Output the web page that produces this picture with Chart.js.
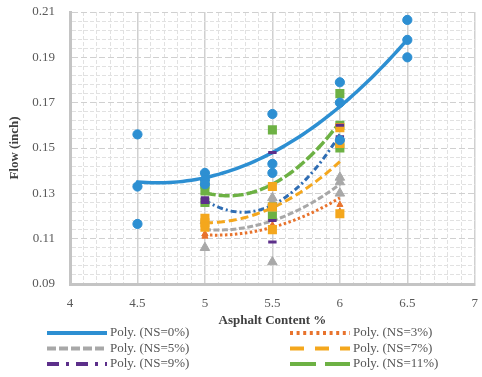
<!DOCTYPE html>
<html>
<head>
<meta charset="utf-8">
<script src="https://cdn.jsdelivr.net/npm/chart.js@4"></script>
<style>
  html, body { margin: 0; padding: 0; background: #fff; }
</style>
</head>
<body>
<canvas id="flowChart" width="482" height="377"></canvas>
<script>
// asphalt content (%) of the specimens
const contentNS0 = [4.5, 4.5, 4.5, 5, 5, 5, 5.5, 5.5, 5.5, 6, 6, 6, 6.5, 6.5, 6.5];
const contentNS = [5, 5, 5, 5.5, 5.5, 5.5, 6, 6, 6];

// measured flow (inch) per nano-silica dosage
const flowNS0 = [0.156, 0.133, 0.1165, 0.139, 0.136, 0.134, 0.165, 0.143, 0.139, 0.179, 0.170, 0.1535, 0.2065, 0.1977, 0.190];
const flowNS3 = [0.112, 0.111, 0.112, 0.115, 0.116, 0.114, 0.137, 0.125, 0.122];
const flowNS5 = [0.106, 0.118, 0.118, 0.0997, 0.128, 0.126, 0.137, 0.135, 0.130];
const flowNS7 = [0.119, 0.117, 0.115, 0.133, 0.124, 0.114, 0.121, 0.152, 0.159];
const flowNS9 = [0.128, 0.126, 0.127, 0.148, 0.1085, 0.118, 0.160, 0.155, 0.153];
const flowNS11 = [0.134, 0.131, 0.126, 0.158, 0.124, 0.120, 0.174, 0.160, 0.150];

const seriesNames = ["NS=0%", "NS=3%", "NS=5%", "NS=7%", "NS=9%", "NS=11%"];
const xTickLabels = ["4", "4.5", "5", "5.5", "6", "6.5", "7"];
const yTickLabels = ["0.09", "0.11", "0.13", "0.15", "0.17", "0.19", "0.21"];

const FONT = "'Liberation Serif', 'Times New Roman', serif";
Chart.defaults.font.family = FONT;

const series = [
  { x: contentNS0, y: flowNS0, color: "#2d8fd2", legend: "#2d8fd2", point: "circle", r: 4.6, bw: 1,
    width: 3.5, dash: [], legendDash: [], cap: "round", order: 1 },
  { x: contentNS, y: flowNS3, color: "#e8732d", legend: "#e8732d", point: "triangle", r: 3.5, bw: 1,
    width: 3, dash: [2.5, 2.5], legendDash: [3, 3.6], cap: "butt", order: 6 },
  { x: contentNS, y: flowNS5, color: "#a8a8a8", legend: "#a8a8a8", point: "triangle", r: 5.5, bw: 1,
    width: 3, dash: [6, 2.5], legendDash: [9, 3], cap: "butt", order: 5 },
  { x: contentNS, y: flowNS7, color: "#f4a71d", legend: "#f4a71d", point: "rect", r: 6.4, bw: 0,
    width: 3, dash: [8, 4], legendDash: [14, 11], cap: "butt", order: 3 },
  { x: contentNS, y: flowNS9, color: "#2f6db3", legend: "#5c2f8a", marker: "#5c2f8a", point: "line", r: 4.2, bw: 3,
    width: 3, dash: [6, 3, 2, 3], legendDash: [12, 7, 3, 7], cap: "butt", order: 2 },
  { x: contentNS, y: flowNS11, color: "#6db144", legend: "#6db144", point: "rect", r: 6.4, bw: 0,
    width: 3.5, dash: [11, 3], legendDash: [26, 9], cap: "butt", order: 4 }
];

// least-squares 2nd order polynomial (Excel "Poly." trendline)
function quadFit(xs, ys) {
  const xm = xs.reduce((a, b) => a + b, 0) / xs.length;
  const s = [0, 0, 0, 0, 0], t = [0, 0, 0];
  xs.forEach((x, i) => {
    let p = 1;
    const u = x - xm;
    for (let k = 0; k < 5; k++) {
      s[k] += p;
      if (k < 3) t[k] += p * ys[i];
      p *= u;
    }
  });
  const det3 = m => m[0][0] * (m[1][1] * m[2][2] - m[1][2] * m[2][1])
    - m[0][1] * (m[1][0] * m[2][2] - m[1][2] * m[2][0])
    + m[0][2] * (m[1][0] * m[2][1] - m[1][1] * m[2][0]);
  const M = [[s[0], s[1], s[2]], [s[1], s[2], s[3]], [s[2], s[3], s[4]]];
  const D = det3(M);
  const coef = [0, 1, 2].map(c => det3(M.map((row, r) => row.map((v, k) => k === c ? t[r] : v))) / D);
  return x => coef[0] + coef[1] * (x - xm) + coef[2] * (x - xm) * (x - xm);
}

function trendPoints(xs, ys) {
  const f = quadFit(xs, ys);
  const lo = Math.min(...xs), hi = Math.max(...xs);
  const pts = [];
  for (let i = 0; i <= 60; i++) {
    const x = lo + (hi - lo) * i / 60;
    pts.push({ x, y: f(x) });
  }
  return pts;
}

const datasets = [];
series.forEach((s, i) => {
  datasets.push({
    label: "Poly. (" + seriesNames[i] + ")",
    data: trendPoints(s.x, s.y),
    showLine: true,
    borderColor: s.color,
    borderWidth: s.width,
    borderDash: s.dash,
    borderCapStyle: s.cap,
    pointRadius: 0,
    fill: false,
    order: 20 + i
  });
});
series.forEach((s, i) => {
  const c = s.marker || s.color;
  datasets.push({
    label: seriesNames[i],
    data: s.x.map((x, k) => ({ x, y: s.y[k] })),
    showLine: false,
    pointStyle: s.point,
    pointRadius: s.r,
    backgroundColor: c,
    borderColor: c,
    borderWidth: s.bw,
    order: s.order
  });
});

// minor grid every 0.1 % and 0.004 inch, labels on the majors only
const xGrid = [], yGrid = [];
for (let i = 0; i <= 30; i++) xGrid.push(4 + i * 0.1);
for (let i = 0; i <= 30; i++) yGrid.push(0.09 + i * 0.004);

const gridColor = c => (c.index % 5 === 0 ? "#d0d0d0" : "#e1e1e1");

const legendPlugin = {
  id: "polyLegend",
  afterDraw(chart) {
    const ctx = chart.ctx;
    ctx.save();
    ctx.font = "13px " + FONT;
    ctx.textBaseline = "middle";
    ctx.fillStyle = "#555";
    series.forEach((s, i) => {
      const col = i % 2, row = Math.floor(i / 2);
      const x0 = col ? 290 : 47;
      const y = 333 + row * 15.5;
      ctx.strokeStyle = s.legend;
      ctx.lineWidth = 4;
      ctx.lineCap = "butt";
      ctx.setLineDash(s.legendDash);
      ctx.beginPath();
      ctx.moveTo(x0, y);
      ctx.lineTo(x0 + 60, y);
      ctx.stroke();
      ctx.fillText("Poly. (" + seriesNames[i] + ")", x0 + 63, y);
    });
    ctx.restore();
  }
};

new Chart(document.getElementById("flowChart"), {
  type: "scatter",
  data: { datasets },
  options: {
    responsive: false,
    animation: false,
    layout: { padding: { top: 12, right: 1, left: 0, bottom: 49 } },
    plugins: { legend: { display: false }, tooltip: { enabled: false } },
    scales: {
      x: {
        type: "linear",
        min: 4,
        max: 7,
        afterBuildTicks: sc => { sc.ticks = xGrid.map(v => ({ value: v })); },
        afterFit: sc => { sc.height = 44; sc.paddingLeft = 0; sc.paddingRight = 0; },
        ticks: {
          autoSkip: false,
          maxRotation: 0,
          padding: 12,
          color: "#595959",
          font: { size: 13 },
          callback: (v, i) => (i % 5 === 0 ? xTickLabels[i / 5] : "")
        },
        grid: {
          drawTicks: false,
          color: gridColor,
          lineWidth: c => (c.index % 5 === 0 ? 1.5 : 1)
        },
        border: {
          color: "#c4c4c4",
          width: 3,
          dash: c => (c.type === "tick" && c.index % 5 !== 0 ? [4, 2] : [])
        },
        title: {
          display: true,
          text: "Asphalt Content %",
          color: "#404040",
          font: { size: 13, weight: "bold" },
          padding: { top: 0, bottom: 0 }
        }
      },
      y: {
        min: 0.09,
        max: 0.21,
        afterBuildTicks: sc => { sc.ticks = yGrid.map(v => ({ value: v })); },
        afterFit: sc => { sc.width = 70; sc.paddingTop = 0; sc.paddingBottom = 0; },
        ticks: {
          autoSkip: false,
          padding: 15,
          color: "#595959",
          font: { size: 13 },
          callback: (v, i) => (i % 5 === 0 ? yTickLabels[i / 5] : "")
        },
        grid: {
          drawTicks: false,
          color: gridColor,
          lineWidth: 1
        },
        border: {
          color: "#c4c4c4",
          width: 3,
          dash: c => (c.type === "tick" ? (c.index % 5 === 0 ? [6, 3] : [4, 2]) : [])
        },
        title: {
          display: true,
          text: "Flow (inch)",
          color: "#404040",
          font: { size: 13, weight: "bold" },
          padding: { top: 7, bottom: 0 }
        }
      }
    }
  },
  plugins: [legendPlugin]
});
</script>
</body>
</html>
